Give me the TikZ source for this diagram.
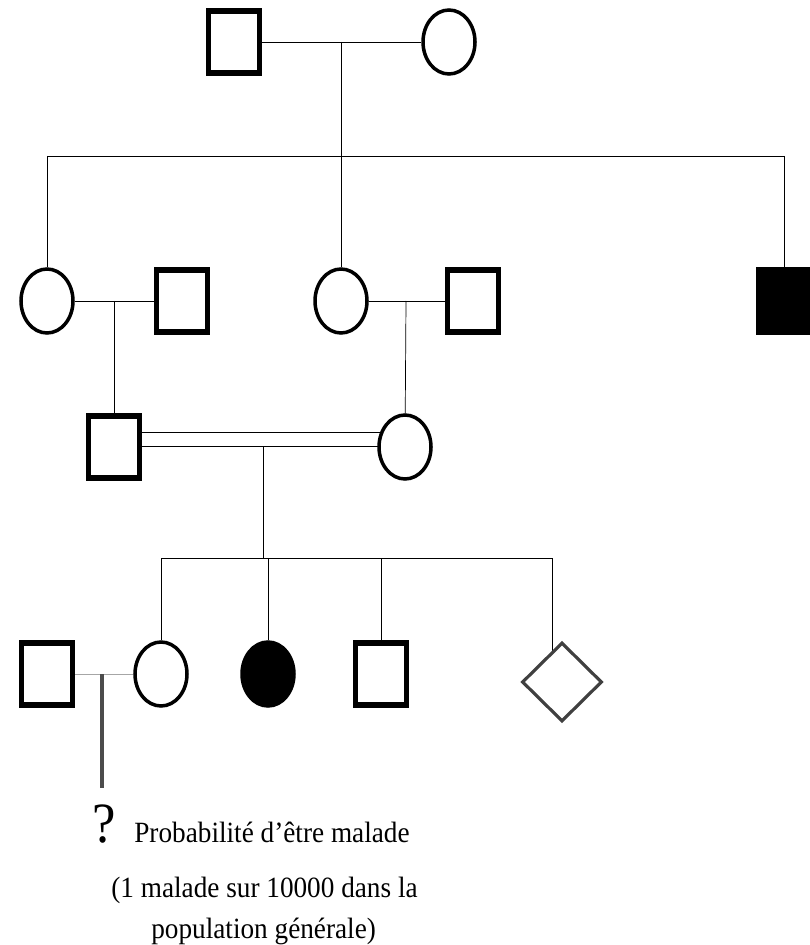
\documentclass[tikz,border=0pt]{standalone}
\usepackage{graphicx}
\usepackage{fontspec}
\setmainfont{Liberation Serif}
\usepackage{tikz}
\usetikzlibrary{shapes.geometric, backgrounds}

\tikzset{
    male/.style={rectangle, draw, line width=3.2pt, fill=white, inner sep=0pt, minimum width=1.02cm, minimum height=1.23cm},
    female/.style={ellipse, draw, line width=2pt, fill=white, inner sep=0pt, minimum width=1.04cm, minimum height=1.28cm},
    sick/.style={fill=black},
    unknown/.style={diamond, draw, line width=1.8pt, draw=black!75, fill=white, inner sep=0pt, minimum width=1.6cm, minimum height=1.58cm},
    link/.style={line width=2.1pt, black!90},
    caption/.style={anchor=base west, inner sep=0pt, font=\fontsize{15.5}{19}\selectfont}
}
\newcommand{\tall}[1]{\scalebox{1}[1.08]{#1}}

\begin{document}
\begin{tikzpicture}[x=0.02cm, y=-0.02cm]
    \useasboundingbox (0,0) rectangle (809,945);

    \node (gp) [male] at (234,42) {};
    \node (gm) [female] at (449,42) {};

    \node (a1) [female] at (47,301) {};
    \node (a2) [male] at (182,301) {};
    \node (b1) [female] at (341,301) {};
    \node (b2) [male] at (473,301) {};
    \node (u) [male, sick] at (784,301) {};

    \node (f) [male] at (114,447) {};
    \node (m) [female] at (405,447) {};

    \node (h) [male] at (47,674) {};
    \node (w) [female] at (161,674) {};
    \node (s) [female, sick] at (268,674) {};
    \node (br) [male] at (381,674) {};
    \node (d) [unknown] at (562,682) {};

    \coordinate (c1) at (341,42);
    \coordinate (s1) at (341,156);
    \coordinate (c2) at (114,301);
    \coordinate (c3) at (406,301);
    \coordinate (c4) at (263,446);
    \coordinate (s2) at (263,558);
    \coordinate (s2r) at (552,558);
    \coordinate (c5) at (102,674);
    \coordinate (q) at (102,788);

    \begin{scope}[on background layer, link]
        \draw (gp) -- (gm);
        \draw (c1) -- (s1);
        \draw (a1 |- s1) -- (u |- s1);
        \foreach \k in {a1, b1, u}
            \draw (\k |- s1) -- (\k);

        \draw (a1) -- (a2);
        \draw (c2) -- (f);
        \draw (b1) -- (b2);
        \draw (c3) -- (m);

        % consanguineous couple
        \draw ([yshift=0.3cm]f.center) -- ([yshift=0.3cm]m.center);
        \draw ([yshift=0.02cm]f.center) -- ([yshift=0.02cm]m.center);
        \draw (c4) -- (s2);
        \draw (w |- s2) -- (s2r);
        \foreach \k in {w, s, br}
            \draw (\k |- s2) -- (\k);
        \draw (s2r) -- (s2r |- d.center);

        \draw [black!35] (h) -- (w);
        \draw [black!70, line width=2.2pt] (c5) -- (q);
    \end{scope}

    \node (qm) [caption, font=\fontsize{30}{32}\selectfont] at (92,842) {\tall{?}};
    \node (l1) [caption] at (134,842) {\tall{Probabilité d’être malade}};
    \node (l2) [caption] at (111,897) {\tall{(1 malade sur 10000 dans la}};
    \node (l3) [caption] at (151,938) {\tall{population générale)}};
\end{tikzpicture}
\end{document}
